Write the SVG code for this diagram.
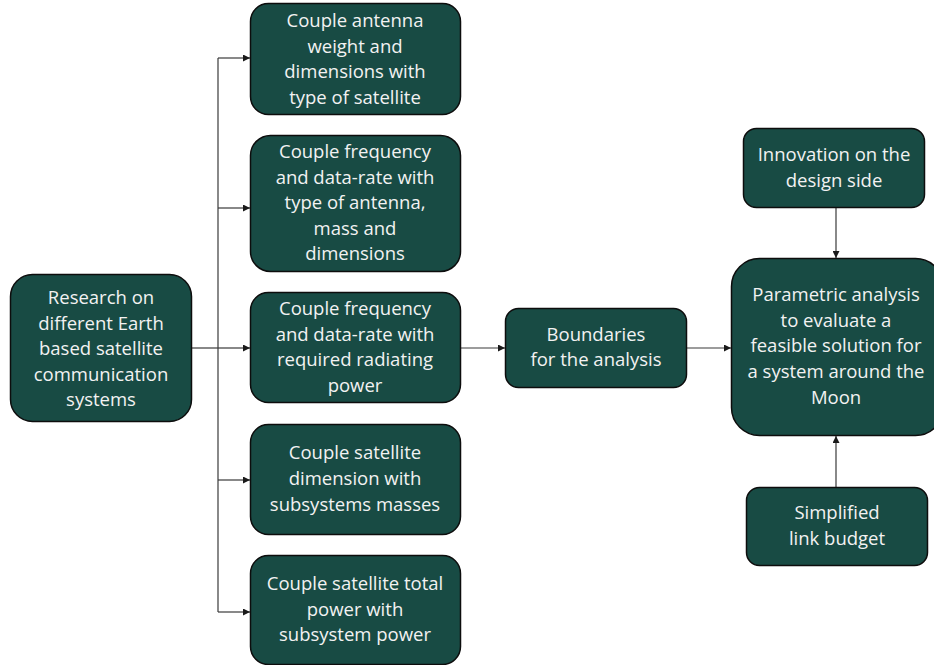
<svg xmlns="http://www.w3.org/2000/svg" width="934" height="665" viewBox="0 0 934 665">
  <style>
    .box { fill: #184b44; stroke: #0d0d0d; stroke-width: 1.5; }
    .lbl { fill: #f2f2f2; font-family: "Open Sans", "Liberation Sans", Arial, sans-serif; font-size: 18.5px; text-anchor: middle; }
    .wire { fill: none; stroke: #3a3a3a; stroke-width: 1.2; }
  </style>
  <defs>
    <marker id="arrow" viewBox="0 0 10 10" refX="10" refY="5" markerWidth="7" markerHeight="7" markerUnits="userSpaceOnUse" orient="auto">
      <path d="M0,0 L10,5 L0,10 z" fill="#1a1a1a"/>
    </marker>
  </defs>
  <rect width="934" height="665" fill="#ffffff"/>

  <g id="connectors">
    <path class="wire" d="M192,348 H218"/>
    <path class="wire" d="M218,58 V612"/>
    <path class="wire" d="M218,58 H250" marker-end="url(#arrow)"/>
    <path class="wire" d="M218,208 H250" marker-end="url(#arrow)"/>
    <path class="wire" d="M218,348 H250" marker-end="url(#arrow)"/>
    <path class="wire" d="M218,480 H250" marker-end="url(#arrow)"/>
    <path class="wire" d="M218,612 H250" marker-end="url(#arrow)"/>
    <path class="wire" d="M461,348 H505" marker-end="url(#arrow)"/>
    <path class="wire" d="M686,348 H731" marker-end="url(#arrow)"/>
    <path class="wire" d="M836,207 V258" marker-end="url(#arrow)"/>
    <path class="wire" d="M836,487 V436" marker-end="url(#arrow)"/>
  </g>

  <g id="research">
    <rect class="box" x="10.5" y="274.5" width="181" height="147" rx="22"/>
    <text class="lbl" x="101" y="304">Research on</text>
    <text class="lbl" x="101" y="330">different Earth</text>
    <text class="lbl" x="101" y="355">based satellite</text>
    <text class="lbl" x="101" y="381">communication</text>
    <text class="lbl" x="101" y="406">systems</text>
  </g>

  <g id="antenna-weight">
    <rect class="box" x="250.5" y="3.5" width="210" height="111" rx="18"/>
    <text class="lbl" x="355" y="27">Couple antenna</text>
    <text class="lbl" x="355" y="53">weight and</text>
    <text class="lbl" x="355" y="78">dimensions with</text>
    <text class="lbl" x="355" y="104">type of satellite</text>
  </g>

  <g id="frequency-antenna">
    <rect class="box" x="250.5" y="135.5" width="210" height="136" rx="20"/>
    <text class="lbl" x="355" y="158">Couple frequency</text>
    <text class="lbl" x="355" y="184">and data-rate with</text>
    <text class="lbl" x="355" y="209">type of antenna,</text>
    <text class="lbl" x="355" y="235">mass and</text>
    <text class="lbl" x="355" y="260">dimensions</text>
  </g>

  <g id="frequency-power">
    <rect class="box" x="250.5" y="292.5" width="210" height="110" rx="18"/>
    <text class="lbl" x="355" y="315">Couple frequency</text>
    <text class="lbl" x="355" y="341">and data-rate with</text>
    <text class="lbl" x="355" y="366">required radiating</text>
    <text class="lbl" x="355" y="392">power</text>
  </g>

  <g id="satellite-dimension">
    <rect class="box" x="250.5" y="424.5" width="210" height="110" rx="18"/>
    <text class="lbl" x="355" y="459">Couple satellite</text>
    <text class="lbl" x="355" y="485">dimension with</text>
    <text class="lbl" x="355" y="511">subsystems masses</text>
  </g>

  <g id="satellite-power">
    <rect class="box" x="250.5" y="555.5" width="210" height="109" rx="18"/>
    <text class="lbl" x="355" y="590">Couple satellite total</text>
    <text class="lbl" x="355" y="616">power with</text>
    <text class="lbl" x="355" y="641">subsystem power</text>
  </g>

  <g id="boundaries">
    <rect class="box" x="505.5" y="308.5" width="181" height="79" rx="13"/>
    <text class="lbl" x="596" y="341">Boundaries</text>
    <text class="lbl" x="596" y="366">for the analysis</text>
  </g>

  <g id="innovation">
    <rect class="box" x="743.5" y="128.5" width="181" height="79" rx="13"/>
    <text class="lbl" x="834" y="161">Innovation on the</text>
    <text class="lbl" x="834" y="187">design side</text>
  </g>

  <g id="parametric">
    <rect class="box" x="731.5" y="258.5" width="212" height="177" rx="28"/>
    <text class="lbl" x="836" y="301">Parametric analysis</text>
    <text class="lbl" x="836" y="327">to evaluate a</text>
    <text class="lbl" x="836" y="352">feasible solution for</text>
    <text class="lbl" x="836" y="378">a system around the</text>
    <text class="lbl" x="836" y="404">Moon</text>
  </g>

  <g id="link-budget">
    <rect class="box" x="746.5" y="487.5" width="181" height="78" rx="13"/>
    <text class="lbl" x="837" y="519">Simplified</text>
    <text class="lbl" x="837" y="545">link budget</text>
  </g>
</svg>
